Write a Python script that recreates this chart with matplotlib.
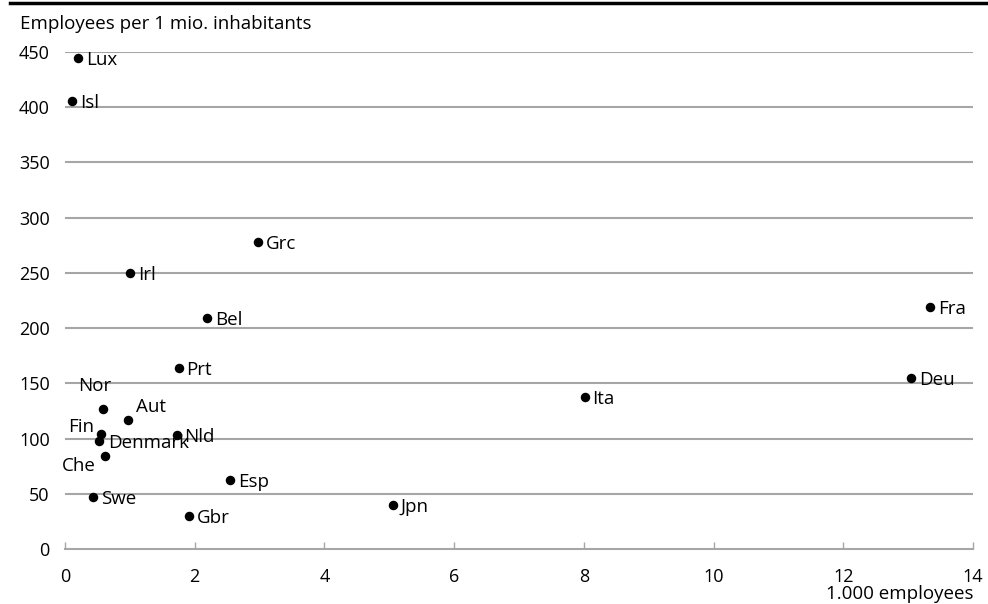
import matplotlib.pyplot as plt
from matplotlib.lines import Line2D

plt.rcParams["font.family"] = ["Open Sans", "DejaVu Sans"]

countries = ["Lux", "Isl", "Grc", "Irl", "Bel", "Fra", "Prt", "Deu", "Ita",
             "Nor", "Aut", "Fin", "Nld", "Denmark", "Che", "Esp", "Swe",
             "Jpn", "Gbr"]
employees_k = [0.2, 0.11, 2.98, 1.0, 2.19, 13.34, 1.75, 13.05, 8.01,
               0.58, 0.97, 0.55, 1.72, 0.52, 0.62, 2.55, 0.43,
               5.05, 1.91]
per_mio = [445, 406, 278, 250, 209, 219, 163.5, 155, 137.6,
           126.7, 116.7, 103.8, 103, 97.5, 84, 62.4, 47.3,
           40, 30]

# label offsets in pixels (dx, dy, ha)
offsets = {
    "Nor": (-8, 23, "center"),
    "Fin": (-7, 7, "right"),
    "Che": (-9, -10, "right"),
    "Aut": (8, 13, "left"),
    "Denmark": (9, -2, "left"),
}

x_ticks = [0, 2, 4, 6, 8, 10, 12, 14]
y_ticks = [0, 50, 100, 150, 200, 250, 300, 350, 400, 450]

fig = plt.figure(figsize=(9.88, 6.04), dpi=100)
ax = fig.add_axes([65 / 988, 1 - 549 / 604, (973 - 65) / 988, (549 - 52) / 604])

ax.set_xlim(0, 14)
ax.set_ylim(0, 450)
ax.set_xticks(x_ticks)
ax.set_yticks(y_ticks)

for y in y_ticks[1:]:
    ax.axhline(y, color="#a6a6a6", lw=1.5, zorder=1)

for s in ["top", "right", "left"]:
    ax.spines[s].set_visible(False)
ax.spines["bottom"].set_color("#a6a6a6")
ax.spines["bottom"].set_linewidth(1.5)

ax.tick_params(axis="x", direction="in", length=5, width=1, color="#a6a6a6",
               labelsize=13, pad=14)
ax.tick_params(axis="y", length=0, labelsize=13, pad=11)

ax.scatter(employees_k, per_mio, s=34, color="black", zorder=3, clip_on=False)

for name, xv, yv in zip(countries, employees_k, per_mio):
    dx, dy, ha = offsets.get(name, (8, -2, "left"))
    ax.annotate(name, (xv, yv), xytext=(dx, dy), textcoords="offset pixels",
                ha=ha, va="center", fontsize=13.5, zorder=4)

fig.text(20 / 988, 1 - 24 / 604, "Employees per 1 mio. inhabitants",
         ha="left", va="center", fontsize=13.5)
fig.text(973 / 988, 1 - 594 / 604, "1.000 employees",
         ha="right", va="center", fontsize=13.5)

fig.add_artist(Line2D([10 / 988, 1], [1 - 3 / 604, 1 - 3 / 604],
                      color="black", lw=2.5, transform=fig.transFigure))

fig.savefig("out.png", dpi=100)
